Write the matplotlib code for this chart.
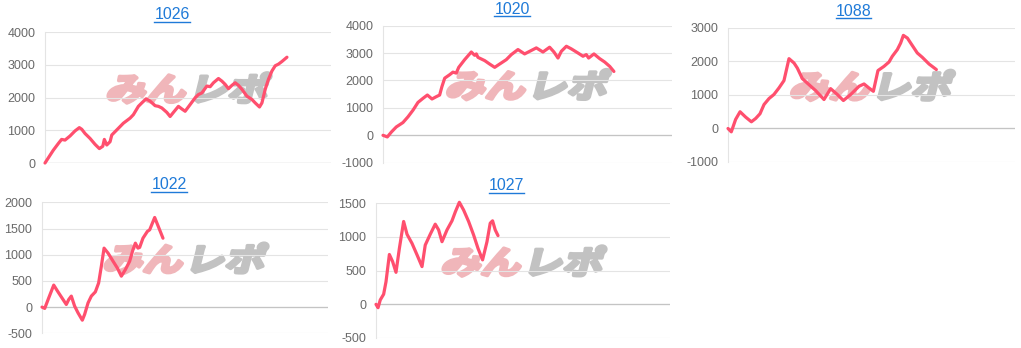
import matplotlib
matplotlib.use('Agg')
import matplotlib.pyplot as plt
import matplotlib.transforms as mtransforms
from matplotlib.textpath import TextPath
from matplotlib.patches import PathPatch
from matplotlib.font_manager import FontProperties
from matplotlib.lines import Line2D

# machine numbers (chart titles)
titles = ['1026', '1020', '1088', '1022', '1027']

# games played (x) and coin difference (y) for each machine
x_1026 = [0, 290, 470, 580, 700, 875, 1050, 1200, 1285, 1400, 1575, 1750, 1900, 2020, 2075,
          2160, 2275, 2335, 2510, 2740, 2975, 3090, 3265, 3385, 3535, 3675, 3850, 3965, 4085,
          4260, 4375, 4490, 4665, 4785, 4900, 5075, 5250, 5365, 5485, 5660, 5775, 5890, 6065,
          6185, 6300, 6415, 6535, 6650, 6765, 6885, 7060, 7235, 7350, 7500, 7585, 7700, 7815,
          7935, 8050, 8165, 8285, 8460]
y_1026 = [0, 390, 600, 720, 700, 825, 980, 1080, 1030, 900, 750, 570, 440, 510, 720,
          550, 650, 855, 1010, 1215, 1370, 1475, 1730, 1835, 1960, 1890, 1750, 1730, 1680,
          1545, 1420, 1545, 1730, 1650, 1580, 1785, 1990, 2090, 2140, 2350, 2330, 2450, 2580,
          2500, 2400, 2270, 2370, 2450, 2370, 2250, 2040, 1940, 1835, 1710, 1835, 2250, 2560,
          2810, 2970, 3020, 3100, 3230]

x_1020 = [0, 150, 290, 460, 690, 865, 1040, 1210, 1385, 1535, 1695, 1845, 1960, 2040, 2135,
          2305, 2420, 2535, 2620, 2825, 3055, 3170, 3230, 3285, 3520, 3690, 3865, 4035, 4265,
          4440, 4670, 4900, 5075, 5305, 5535, 5765, 5915, 6055, 6170, 6345, 6515, 6745, 6920,
          7035, 7115, 7300, 7495, 7670, 7845, 7990]
y_1020 = [0, -60, 120, 305, 465, 675, 920, 1200, 1350, 1470, 1325, 1410, 1470, 1780, 2085,
          2210, 2305, 2270, 2480, 2760, 3040, 2920, 2970, 2845, 2725, 2600, 2480, 2600, 2760,
          2945, 3130, 2970, 3065, 3190, 3040, 3215, 3040, 2820, 3065, 3250, 3155, 3005, 2885,
          2945, 2820, 2970, 2800, 2675, 2515, 2330]

x_1088 = [0, 115, 265, 420, 615, 815, 965, 1115, 1255, 1430, 1600, 1775, 1950, 2125, 2300,
          2415, 2590, 2820, 3055, 3345, 3575, 3810, 4020, 4275, 4565, 4740, 4910, 5065, 5225,
          5435, 5610, 5725, 5900, 6015, 6110, 6250, 6420, 6595, 6770, 7005, 7260]
y_1088 = [0, -100, 270, 500, 340, 200, 300, 440, 715, 895, 1015, 1210, 1430, 2085, 1955,
          1805, 1490, 1310, 1130, 865, 1190, 1015, 835, 1015, 1260, 1330, 1210, 1110, 1730,
          1855, 1985, 2155, 2355, 2550, 2780, 2700, 2480, 2255, 2125, 1925, 1760]

x_1022 = [0, 95, 235, 410, 560, 735, 850, 935, 1025, 1140, 1260, 1410, 1490, 1610, 1725,
          1865, 1980, 2075, 2170, 2310, 2485, 2635, 2775, 2915, 3065, 3180, 3265, 3355, 3415,
          3530, 3685, 3765, 3940, 4080, 4230]
y_1022 = [0, -25, 175, 420, 290, 145, 50, 145, 210, 20, -110, -250, -140, 80, 210,
          290, 460, 780, 1125, 1030, 875, 745, 590, 715, 875, 1095, 1220, 1125, 1140,
          1315, 1445, 1475, 1710, 1520, 1315]

x_1027 = [0, 70, 145, 260, 340, 455, 565, 680, 795, 940, 1055, 1225, 1395, 1565, 1675,
          1845, 2015, 2130, 2245, 2415, 2585, 2700, 2835, 2980, 3150, 3320, 3470, 3625, 3775,
          3885, 3965, 4055, 4150]
y_1027 = [0, -50, 65, 150, 335, 740, 635, 475, 830, 1230, 1040, 905, 735, 560, 880,
          1040, 1190, 1105, 930, 1105, 1240, 1375, 1515, 1400, 1230, 1030, 830, 660, 930,
          1205, 1240, 1105, 1020]

xs = [x_1026, x_1020, x_1088, x_1022, x_1027]
ys = [y_1026, y_1020, y_1088, y_1022, y_1027]

y_ticks = [
    [0, 1000, 2000, 3000, 4000],
    [-1000, 0, 1000, 2000, 3000, 4000],
    [-1000, 0, 1000, 2000, 3000],
    [-500, 0, 500, 1000, 1500, 2000],
    [-500, 0, 500, 1000, 1500],
]
x_max = 10000

W, H = 1021, 348
# plot areas in pixels: left, top, right, bottom (top-down)
boxes = [(45, 32, 331, 163), (383, 25.7, 672, 162.7), (728, 28, 1015, 162),
         (42, 202.3, 328, 333.3), (376, 203.3, 670, 338)]
# title centre x and baseline y in pixels
title_pos = [(172, 19), (512, 13.5), (853.5, 15.5), (169, 189), (506.5, 190)]

line_color = '#ff4f6e'
grid_color = '#e4e4e4'
link_color = '#1f7ad8'

fig = plt.figure(figsize=(W / 100, H / 100), dpi=100)
fig.patch.set_facecolor('white')

wm_font = FontProperties(family='Noto Sans CJK JP', weight='bold')


def add_watermark(ax, l, t, r, b):
    cx = (l + r) / 2
    cy = H - ((t + b) / 2 - 9)
    p1 = TextPath((0, 0), 'みん', size=1, prop=wm_font)
    p2 = TextPath((2.05, 0), 'レポ', size=1, prop=wm_font)
    tr = (mtransforms.Affine2D().translate(-2.0, -0.38).scale(40, 32)
          .skew_deg(14, 0).translate(cx, cy))
    for path, col in [(p1, '#f0b6ba'), (p2, '#c2c2c2')]:
        patch = PathPatch(path, facecolor=col, edgecolor=col, linewidth=2.6,
                          joinstyle='round', transform=tr, zorder=0.5, clip_on=False)
        ax.add_artist(patch)


axes = []
for i in range(5):
    l, t, r, b = boxes[i]
    ax = fig.add_axes([l / W, 1 - b / H, (r - l) / W, (b - t) / H])
    ticks = y_ticks[i]
    ax.set_ylim(ticks[0], ticks[-1])
    ax.set_xlim(0, x_max)
    ax.set_yticks(ticks)
    ax.set_yticklabels([str(v) for v in ticks])
    ax.set_xticks([])
    for s in ['top', 'right', 'bottom']:
        ax.spines[s].set_visible(False)
    ax.spines['left'].set_color(grid_color)
    ax.spines['left'].set_linewidth(0.8)
    ax.grid(axis='y', color=grid_color, linewidth=0.8)
    ax.set_axisbelow(True)
    ax.axhline(0, color='#c4c4c4', linewidth=0.9, zorder=1)
    ax.tick_params(axis='y', length=0, pad=7, labelsize=9, labelcolor='#6a6a6a')
    for lab in ax.get_yticklabels():
        lab.set_fontfamily('Liberation Sans')
    ax.patch.set_alpha(0)
    add_watermark(ax, l, t, r, b)
    ax.plot(xs[i], ys[i], color=line_color, linewidth=2.3, zorder=3,
            solid_joinstyle='round', solid_capstyle='round', clip_on=False)
    axes.append(ax)

# titles with underline, like links
texts = []
for i in range(5):
    tx, ty = title_pos[i]
    txt = fig.text(tx / W, 1 - ty / H, titles[i], ha='center', va='baseline',
                   color=link_color, fontsize=11.5, family='Liberation Sans')
    texts.append(txt)

fig.canvas.draw()
renderer = fig.canvas.get_renderer()
for i, txt in enumerate(texts):
    bb = txt.get_window_extent(renderer)
    base = H - title_pos[i][1] - 2.5
    fig.add_artist(Line2D([bb.x0, bb.x1], [base, base], color=link_color,
                          linewidth=1.0, transform=mtransforms.IdentityTransform()))

plt.savefig('out.png', dpi=100, facecolor='white')
